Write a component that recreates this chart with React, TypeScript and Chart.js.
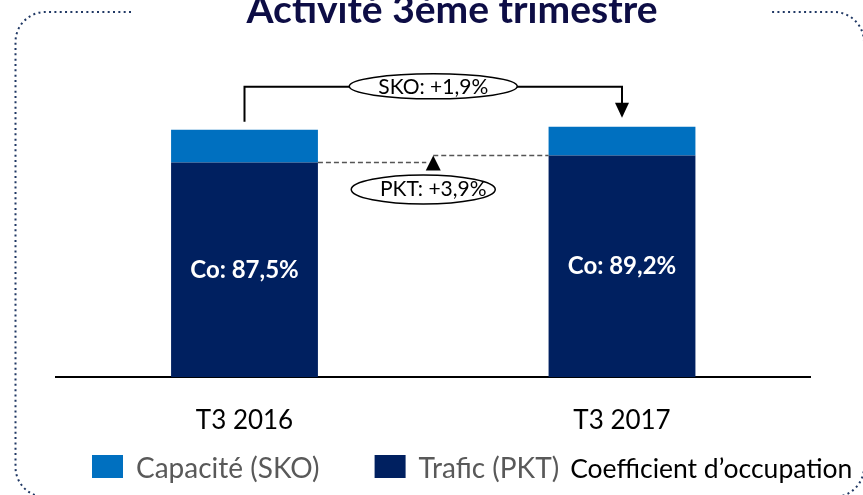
import React, { useEffect, useRef } from 'react';
import { Chart, registerables } from 'chart.js';

Chart.register(...registerables);

const categories = ['T3 2016', 'T3 2017'];
const traficValues = [86.8, 89.6];
const capaciteValues = [13.2, 11.6];
const coLabels = ['Co: 87,5%', 'Co: 89,2%'];
const skoLabel = 'SKO: +1,9%';
const pktLabel = 'PKT: +3,9%';
const seriesLabels = ['Trafic (PKT)', 'Capacité (SKO)'];
const seriesColors = ['#002060', '#0070C0'];
const legendExtra = 'Coefficient d\u2019occupation';
const titleText = 'Activité 3ème trimestre';

const FONT = 'Lato, "Open Sans", sans-serif';

const overlay = {
  id: 'overlay',
  beforeDraw(chart: any) {
    const ctx = chart.ctx as CanvasRenderingContext2D;
    ctx.save();
    ctx.strokeStyle = '#203864';
    ctx.lineWidth = 2;
    ctx.setLineDash([2, 3.33]);
    const L = 15.5, T = 12, R = 864, B = 497, r = 30;
    ctx.beginPath();
    ctx.moveTo(131, T);
    ctx.lineTo(L + r, T);
    ctx.arcTo(L, T, L, T + r, r);
    ctx.lineTo(L, B - r);
    ctx.arcTo(L, B, L + r, B, r);
    ctx.lineTo(R - r, B);
    ctx.arcTo(R, B, R, B - r, r);
    ctx.lineTo(R, T + r);
    ctx.arcTo(R, T, R - r, T, r);
    ctx.lineTo(771, T);
    ctx.stroke();
    ctx.setLineDash([]);
    ctx.fillStyle = '#0d0d45';
    ctx.font = 'bold 39px ' + FONT;
    ctx.textAlign = 'center';
    ctx.textBaseline = 'alphabetic';
    ctx.fillText(titleText, 452, 23);
    ctx.restore();
  },
  afterDatasetsDraw(chart: any) {
    const ctx = chart.ctx as CanvasRenderingContext2D;
    const dark = chart.getDatasetMeta(0).data;
    const light = chart.getDatasetMeta(1).data;
    ctx.save();
    // Co labels
    ctx.fillStyle = '#ffffff';
    ctx.font = 'bold 24px ' + FONT;
    ctx.textAlign = 'center';
    ctx.textBaseline = 'middle';
    dark.forEach((b: any, i: number) => {
      ctx.fillText(coLabels[i], b.x, (b.y + b.base) / 2);
    });

    // SKO bracket
    const x0 = light[0].x, x1 = light[1].x;
    const top0 = light[0].y, top1 = light[1].y;
    const bracketY = Math.min(top0, top1) - 40;
    const midX = (light[0].x + light[0].width / 2 + light[1].x - light[1].width / 2) / 2;
    ctx.strokeStyle = '#000';
    ctx.fillStyle = '#000';
    ctx.lineWidth = 2;
    ctx.beginPath();
    ctx.moveTo(x0, top0 - 8);
    ctx.lineTo(x0, bracketY);
    ctx.lineTo(x1, bracketY);
    ctx.lineTo(x1, top1 - 22);
    ctx.stroke();
    ctx.beginPath();
    ctx.moveTo(x1 - 7, top1 - 24);
    ctx.lineTo(x1 + 7, top1 - 24);
    ctx.lineTo(x1, top1 - 9);
    ctx.closePath();
    ctx.fill();

    // SKO ellipse
    ctx.beginPath();
    ctx.ellipse(midX, bracketY - 0.5, 84, 12.5, 0, 0, Math.PI * 2);
    ctx.fillStyle = '#fff';
    ctx.fill();
    ctx.lineWidth = 1.5;
    ctx.stroke();
    ctx.fillStyle = '#000';
    ctx.font = '21px ' + FONT;
    ctx.fillText(skoLabel, midX, bracketY);

    // PKT dashed
    const d0 = dark[0], d1 = dark[1];
    ctx.strokeStyle = '#555';
    ctx.lineWidth = 1.5;
    ctx.setLineDash([5, 3]);
    ctx.beginPath();
    ctx.moveTo(d0.x + d0.width / 2, d0.y);
    ctx.lineTo(midX - 7, d0.y);
    ctx.moveTo(midX, d1.y);
    ctx.lineTo(d1.x - d1.width / 2, d1.y);
    ctx.stroke();
    ctx.setLineDash([]);
    ctx.fillStyle = '#000';
    ctx.beginPath();
    ctx.moveTo(midX, d1.y);
    ctx.lineTo(midX + 7.5, d1.y + 15);
    ctx.lineTo(midX - 7.5, d1.y + 15);
    ctx.closePath();
    ctx.fill();

    // PKT ellipse
    const pY = d0.y + 27;
    ctx.beginPath();
    ctx.ellipse(midX - 10, pY, 72, 14.5, 0, 0, Math.PI * 2);
    ctx.fillStyle = '#fff';
    ctx.fill();
    ctx.strokeStyle = '#000';
    ctx.lineWidth = 1.5;
    ctx.stroke();
    ctx.fillStyle = '#000';
    ctx.font = '21px ' + FONT;
    ctx.fillText(pktLabel, midX, pY);
    ctx.restore();
  },
  afterDraw(chart: any) {
    const ctx = chart.ctx as CanvasRenderingContext2D;
    ctx.save();
    ctx.textAlign = 'left';
    ctx.textBaseline = 'alphabetic';
    ctx.font = '28px ' + FONT;
    let x = 92;
    const baseY = 478;
    const order = [1, 0];
    order.forEach((k, n) => {
      ctx.fillStyle = seriesColors[k];
      ctx.fillRect(x, 455, 31, 23);
      x += 31 + 13;
      ctx.fillStyle = '#595959';
      ctx.fillText(seriesLabels[k], x, baseY);
      x += ctx.measureText(seriesLabels[k]).width + (n === 0 ? 55 : 11);
    });
    ctx.fillStyle = '#000';
    ctx.font = '26.5px ' + FONT;
    ctx.fillText(legendExtra, x, baseY);
    ctx.restore();
  },
};

export default function App() {
  const ref = useRef<HTMLCanvasElement>(null);
  useEffect(() => {
    if (!ref.current) return;
    const chart = new Chart(ref.current, {
      type: 'bar',
      data: {
        labels: categories,
        datasets: [
          { label: seriesLabels[0], data: traficValues, backgroundColor: seriesColors[0], borderWidth: 0 },
          { label: seriesLabels[1], data: capaciteValues, backgroundColor: seriesColors[1], borderWidth: 0 },
        ],
      },
      options: {
        responsive: false,
        animation: false,
        devicePixelRatio: 1,
        layout: { padding: { left: 55.75, right: 52.25, top: 68, bottom: 30.6 } },
        datasets: { bar: { categoryPercentage: 1, barPercentage: 0.389 } } as any,
        plugins: { legend: { display: false }, title: { display: false }, tooltip: { enabled: false } },
        scales: {
          x: {
            stacked: true,
            grid: { display: false, drawTicks: false },
            border: { display: true, color: '#000', width: 2 },
            ticks: { color: '#000', font: { family: FONT, size: 26 }, padding: 28 },
          },
          y: { stacked: true, display: false, min: 0, max: 125 },
        },
      },
      plugins: [overlay],
    });
    return () => chart.destroy();
  }, []);
  return (
    <div style={{ position: 'fixed', left: 0, top: 0, width: 863, height: 495, background: '#fff' }}>
      <canvas ref={ref} width={863} height={495} />
    </div>
  );
}
